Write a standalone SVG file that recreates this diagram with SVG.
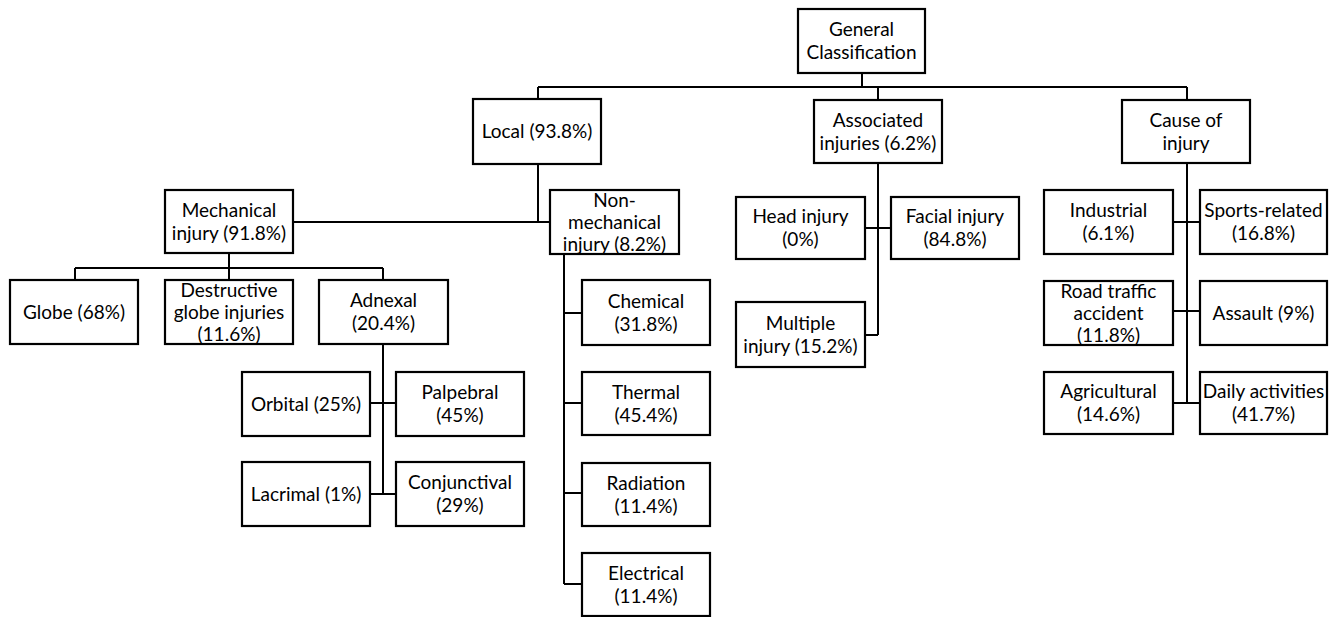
<svg xmlns="http://www.w3.org/2000/svg" width="1333" height="617" viewBox="0 0 1333 617">
<style>
.box{fill:#fff;stroke:#000;stroke-width:2.2}
.t{font-family:Lato,"Liberation Sans",sans-serif;font-size:19px;fill:#000;text-anchor:middle}
.c{fill:none;stroke:#000;stroke-width:2}
</style>
<rect width="1333" height="617" fill="#fff"/>
<g id="connectors">
<path class="c" d="M862,73V87M538,87H1187M538,87V99M878,87V100M1187,87V100"/>
<path class="c" d="M538,164V222M293,222H550"/>
<path class="c" d="M229,253V280M75,268H383M75,268V280M383,268V280"/>
<path class="c" d="M383,344V494M370,403H396M370,494H396"/>
<path class="c" d="M564,254V584M564,313H582M564,403H582M564,493H582M564,584H582"/>
<path class="c" d="M878,163V335M865,228H891M865,335H878"/>
<path class="c" d="M1187,163V403M1173,222H1200M1173,311H1200M1173,403H1200"/>
</g>
<g id="general"><rect class="box" x="798" y="9" width="127" height="64"/><text class="t" x="861.5" y="36">General</text><text class="t" x="861.5" y="59">Classification</text></g>
<g id="local"><rect class="box" x="473" y="99" width="128" height="65"/><text class="t" x="537" y="138">Local (93.8%)</text></g>
<g id="associated"><rect class="box" x="814" y="100" width="128" height="63"/><text class="t" x="878" y="127">Associated</text><text class="t" x="878" y="150">injuries (6.2%)</text></g>
<g id="cause"><rect class="box" x="1122" y="100" width="128" height="63"/><text class="t" x="1186" y="127">Cause of</text><text class="t" x="1186" y="150">injury</text></g>
<g id="mechanical"><rect class="box" x="165" y="190" width="128" height="63"/><text class="t" x="229" y="217">Mechanical</text><text class="t" x="229" y="240">injury (91.8%)</text></g>
<g id="nonmechanical"><rect class="box" x="550" y="190" width="129" height="64"/><text class="t" x="614.5" y="207">Non-</text><text class="t" x="614.5" y="229">mechanical</text><text class="t" x="614.5" y="251">injury (8.2%)</text></g>
<g id="globe"><rect class="box" x="10" y="280" width="128" height="64"/><text class="t" x="74" y="319">Globe (68%)</text></g>
<g id="destructive"><rect class="box" x="165" y="280" width="128" height="64"/><text class="t" x="229" y="297">Destructive</text><text class="t" x="229" y="319">globe injuries</text><text class="t" x="229" y="341">(11.6%)</text></g>
<g id="adnexal"><rect class="box" x="319" y="280" width="129" height="64"/><text class="t" x="383.5" y="307">Adnexal</text><text class="t" x="383.5" y="330">(20.4%)</text></g>
<g id="orbital"><rect class="box" x="242" y="372" width="128" height="64"/><text class="t" x="306" y="411">Orbital (25%)</text></g>
<g id="palpebral"><rect class="box" x="396" y="372" width="128" height="64"/><text class="t" x="460" y="399">Palpebral</text><text class="t" x="460" y="422">(45%)</text></g>
<g id="lacrimal"><rect class="box" x="242" y="462" width="128" height="64"/><text class="t" x="306" y="501">Lacrimal (1%)</text></g>
<g id="conjunctival"><rect class="box" x="396" y="462" width="128" height="64"/><text class="t" x="460" y="489">Conjunctival</text><text class="t" x="460" y="512">(29%)</text></g>
<g id="chemical"><rect class="box" x="582" y="280" width="128" height="65"/><text class="t" x="646" y="308">Chemical</text><text class="t" x="646" y="331">(31.8%)</text></g>
<g id="thermal"><rect class="box" x="582" y="372" width="128" height="63"/><text class="t" x="646" y="399">Thermal</text><text class="t" x="646" y="422">(45.4%)</text></g>
<g id="radiation"><rect class="box" x="582" y="463" width="128" height="63"/><text class="t" x="646" y="490">Radiation</text><text class="t" x="646" y="513">(11.4%)</text></g>
<g id="electrical"><rect class="box" x="582" y="553" width="128" height="63"/><text class="t" x="646" y="580">Electrical</text><text class="t" x="646" y="603">(11.4%)</text></g>
<g id="head"><rect class="box" x="736" y="197" width="129" height="62"/><text class="t" x="800.5" y="223">Head injury</text><text class="t" x="800.5" y="246">(0%)</text></g>
<g id="facial"><rect class="box" x="891" y="197" width="128" height="62"/><text class="t" x="955" y="223">Facial injury</text><text class="t" x="955" y="246">(84.8%)</text></g>
<g id="multiple"><rect class="box" x="736" y="302" width="129" height="65"/><text class="t" x="800.5" y="330">Multiple</text><text class="t" x="800.5" y="353">injury (15.2%)</text></g>
<g id="industrial"><rect class="box" x="1044" y="190" width="129" height="64"/><text class="t" x="1108.5" y="217">Industrial</text><text class="t" x="1108.5" y="240">(6.1%)</text></g>
<g id="sports"><rect class="box" x="1200" y="190" width="127" height="64"/><text class="t" x="1263.5" y="217">Sports-related</text><text class="t" x="1263.5" y="240">(16.8%)</text></g>
<g id="road"><rect class="box" x="1044" y="281" width="129" height="64"/><text class="t" x="1108.5" y="298">Road traffic</text><text class="t" x="1108.5" y="320">accident</text><text class="t" x="1108.5" y="342">(11.8%)</text></g>
<g id="assault"><rect class="box" x="1200" y="281" width="127" height="64"/><text class="t" x="1263.5" y="320">Assault (9%)</text></g>
<g id="agricultural"><rect class="box" x="1044" y="372" width="129" height="62"/><text class="t" x="1108.5" y="398">Agricultural</text><text class="t" x="1108.5" y="421">(14.6%)</text></g>
<g id="daily"><rect class="box" x="1200" y="372" width="127" height="62"/><text class="t" x="1263.5" y="398">Daily activities</text><text class="t" x="1263.5" y="421">(41.7%)</text></g>
</svg>
